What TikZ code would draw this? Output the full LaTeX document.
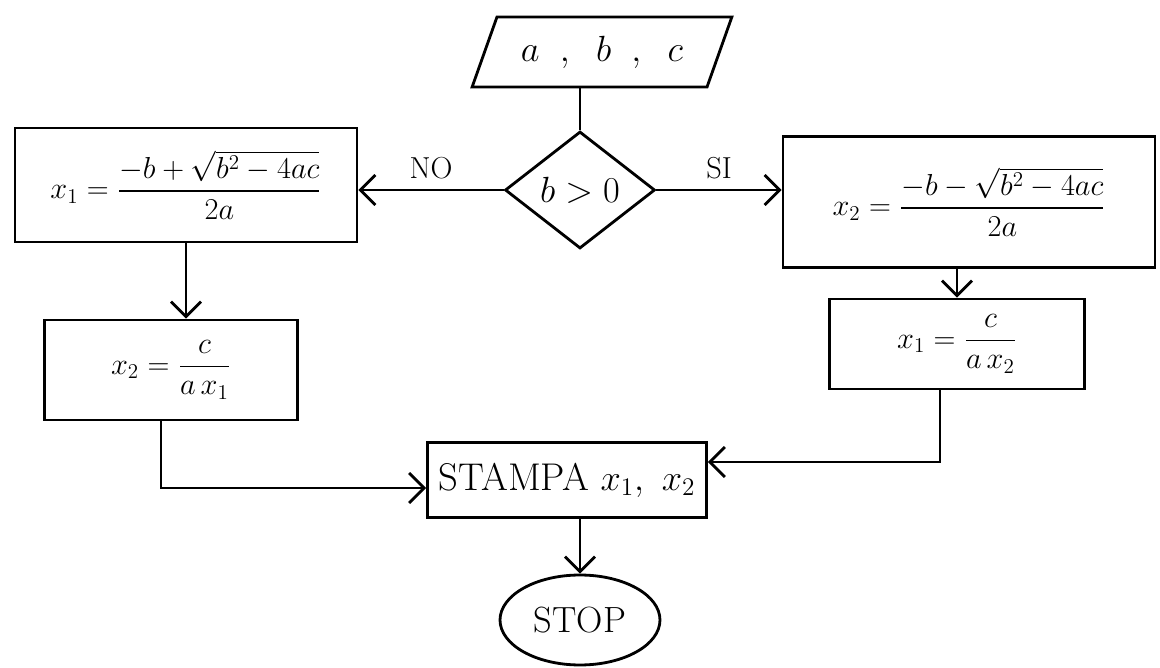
\documentclass[tikz,border=0pt]{standalone}
\usepackage{amsmath}
\usetikzlibrary{shapes.geometric,arrows.meta}
\begin{document}
\begin{tikzpicture}[x=0.02cm,y=-0.02cm,
  every node/.style={line width=1.6pt},
  box/.style={draw,rectangle,inner sep=2pt,font=\fontsize{18.5}{22}\selectfont},
  io/.style={draw,trapezium,trapezium left angle=65,trapezium right angle=115,trapezium stretches=true,font=\fontsize{22}{26}\selectfont},
  dec/.style={draw,diamond,inner sep=0pt,font=\fontsize{21}{25}\selectfont},
  term/.style={draw,ellipse,font=\huge},
  lbl/.style={font=\LARGE},
  arr/.style={line width=1.6pt,-{Straight Barb[length=3mm,width=6mm]}},
  ln/.style={line width=1.6pt}]
\useasboundingbox (0,0) rectangle (1160,668);
\node[io,minimum width=5.2cm,minimum height=1.4cm] (in) at (602,52) {$a\;\;,\;\;b\;\;,\;\;c$};
\node[dec,minimum width=3cm,minimum height=2.34cm] (d) at (580,190) {$b>0$};
\node[box,minimum width=6.84cm,minimum height=2.28cm] (L1) at (186,185) {$x_1=\dfrac{-b+\sqrt{b^2-4ac}}{2a}$};
\node[box,minimum width=5.06cm,minimum height=2cm] (L2) at (171,370) {$x_2=\dfrac{c}{a\,x_1}$};
\node[box,minimum width=7.44cm,minimum height=2.62cm] (R1) at (969,202) {$x_2=\dfrac{-b-\sqrt{b^2-4ac}}{2a}$};
\node[box,minimum width=5.1cm,minimum height=1.8cm] (R2) at (957,344) {$x_1=\dfrac{c}{a\,x_2}$};
\node[box,minimum width=5.58cm,minimum height=1.5cm,font=\fontsize{22}{26}\selectfont] (P) at (567,480) {STAMPA $x_1,\ x_2$};
\node[term,minimum width=3.2cm,minimum height=1.8cm] (S) at (580,620) {STOP};
\draw[ln] (in.south -| d.north) -- (d.north);
\draw[arr] (d.west) -- (d.west -| L1.east) node[lbl,midway,above=2pt] {NO};
\draw[arr] (d.east) -- (d.east -| R1.west) node[lbl,midway,above=2pt] {SI};
\draw[arr] (L1.south) -- (L1.south |- L2.north);
\draw[arr] ([xshift=-0.2cm]L2.south) |- ([yshift=-0.16cm]P.west);
\draw[arr] (R2.north |- R1.south) -- (R2.north);
\draw[arr] ([xshift=-0.34cm]R2.south) |- ([yshift=0.36cm]P.east);
\draw[arr] (P.south -| S.north) -- (S.north);
\end{tikzpicture}
\end{document}
